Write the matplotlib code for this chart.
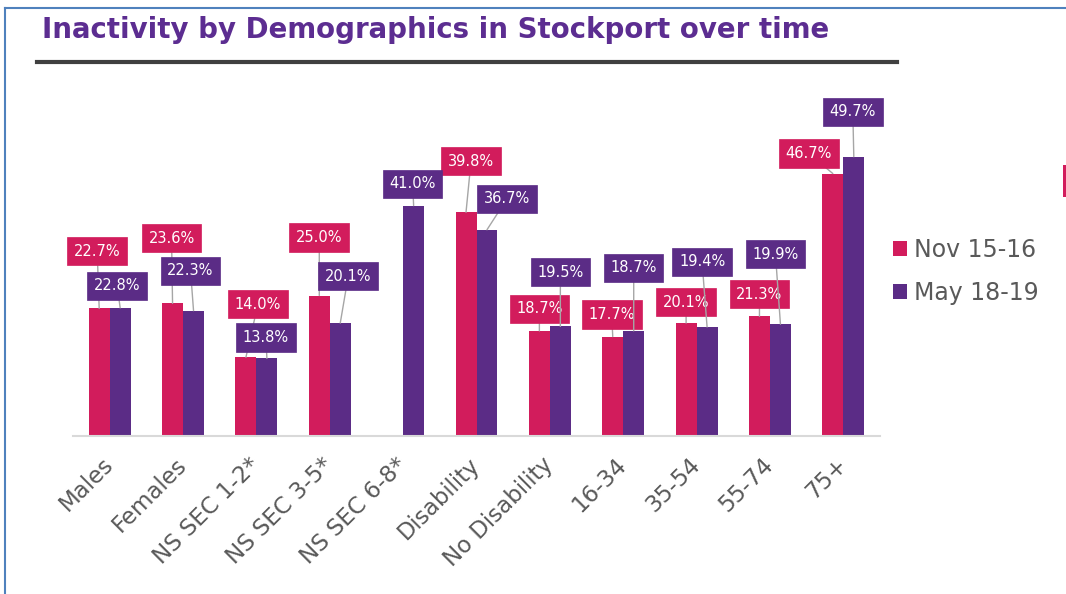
import matplotlib
matplotlib.use("Agg")
import matplotlib.pyplot as plt
import numpy as np
from matplotlib.lines import Line2D
from matplotlib.patches import Rectangle

# ---------------- data ----------------
categories = ["Males", "Females", "NS SEC 1-2*", "NS SEC 3-5*", "NS SEC 6-8*",
              "Disability", "No Disability", "16-34", "35-54", "55-74", "75+"]
nov_15_16 = [22.7, 23.6, 14.0, 25.0, np.nan, 39.8, 18.7, 17.7, 20.1, 21.3, 46.7]
may_18_19 = [22.8, 22.3, 13.8, 20.1, 41.0, 36.7, 19.5, 18.7, 19.4, 19.9, 49.7]
series_names = ["Nov 15-16", "May 18-19"]
title = "Inactivity by Demographics in Stockport over time"

# ---------------- layout / style ----------------
W, H = 1066, 594
PINK = "#D21C5C"
PURPLE = "#5B2C86"
TITLE_COL = "#5C2D91"
GREY_TXT = "#595959"
LEADER = "#A6A6A6"

# label box offsets (pixels, relative to bar top)
nov_off = [(-2, -57), (-1, -65), (12, -53), (0, -58), (0, 0), (5, -51),
           (0, -22), (-1, -22), (0, -21), (0, -22), (-24, -20)]
may_off = [(-3, -22), (-3, -40), (-1, -21), (8, -47), (-1, -22), (20, -31),
           (0, -54), (0, -63), (-5, -65), (-5, -70), (-1, -45)]

fig = plt.figure(figsize=(W / 100, H / 100), dpi=100)
fig.patch.set_facecolor("white")

YMAX = 55
px_per_unit = 5.62
ax_left, ax_right, ax_base = 73, 880, 436
ax = fig.add_axes([ax_left / W, (H - ax_base) / H, (ax_right - ax_left) / W,
                   YMAX * px_per_unit / H])
ax.set_xlim(-0.5, len(categories) - 0.5)
ax.set_ylim(0, YMAX)

x = np.arange(len(categories))
bw = 0.286
ax.bar(x - bw / 2, nov_15_16, width=bw, color=PINK, label=series_names[0], zorder=2)
ax.bar(x + bw / 2, may_18_19, width=bw, color=PURPLE, label=series_names[1], zorder=2)

for s in ["top", "right", "left"]:
    ax.spines[s].set_visible(False)
ax.spines["bottom"].set_color("#D9D9D9")
ax.spines["bottom"].set_linewidth(1.5)
ax.set_yticks([])
ax.set_xticks(x)
ax.set_xticklabels(categories, rotation=45, ha="right", va="center",
                   rotation_mode="anchor", fontsize=16.5, color=GREY_TXT,
                   family="DejaVu Sans")
ax.tick_params(axis="x", length=0, pad=18)


def add_labels(vals, offs, xs, color):
    for v, (dx, dy), xx in zip(vals, offs, xs):
        if np.isnan(v):
            continue
        ax.annotate(f"{v:.1f}%", xy=(xx, v), xytext=(dx, -dy),
                    textcoords="offset pixels", ha="center", va="center",
                    fontsize=10.5, color="white", zorder=5,
                    bbox=dict(boxstyle="square,pad=0.45", fc=color, ec=color, lw=0.5),
                    arrowprops=dict(arrowstyle="-", color=LEADER, lw=1,
                                    shrinkA=0, shrinkB=0),
                    annotation_clip=False)


add_labels(nov_15_16, nov_off, x - bw / 2, PINK)
add_labels(may_18_19, may_off, x + bw / 2, PURPLE)

# legend
leg = fig.legend(loc="center left", bbox_to_anchor=(893 / W, 1 - 271.5 / H),
                 frameon=False, fontsize=17, handlelength=0.6, handleheight=0.6,
                 handletextpad=0.3, labelspacing=0.78, borderpad=0, borderaxespad=0)
for t in leg.get_texts():
    t.set_color(GREY_TXT)

# title
tt = fig.text(42 / W, 1 - 38.5 / H, title, fontsize=20, fontweight="bold",
              color=TITLE_COL, ha="left", va="baseline", family="DejaVu Sans")
fig.canvas.draw()
bb = tt.get_window_extent()
tt.set_fontsize(20 * (830 - 42) / bb.width)

# title underline
fig.add_artist(Line2D([37 / W, 897 / W], [1 - 61.5 / H] * 2, transform=fig.transFigure,
                      color="#404040", lw=3))

# frame border
fig.add_artist(Line2D([5 / W, 1], [1 - 8 / H] * 2, transform=fig.transFigure,
                      color="#4F81BD", lw=1.5))
fig.add_artist(Line2D([5 / W, 5 / W], [0, 1 - 8 / H], transform=fig.transFigure,
                      color="#4F81BD", lw=1.5))
fig.add_artist(Rectangle((1063 / W, 1 - 197 / H), 3 / W, 32 / H,
                         transform=fig.transFigure, color=PINK, lw=0))

fig.savefig("out.png", dpi=100, facecolor="white")
